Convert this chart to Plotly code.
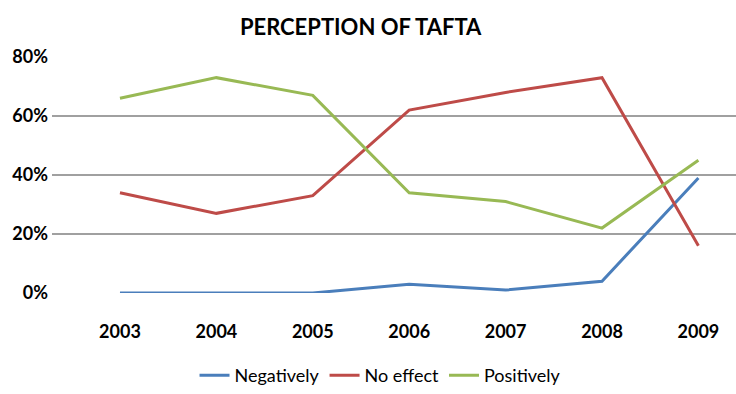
import plotly.graph_objects as go

years = ["2003", "2004", "2005", "2006", "2007", "2008", "2009"]
negatively = [0, 0, 0, 3, 1, 4, 39]
no_effect = [34, 27, 33, 62, 68, 73, 16]
positively = [66, 73, 67, 34, 31, 22, 45]
y_ticks = [0, 20, 40, 60, 80]
y_tick_labels = ["0%", "20%", "40%", "60%", "80%"]

font_family = "Lato, Open Sans, sans-serif"

fig = go.Figure()
for name, vals, color in [
    ("Negatively", negatively, "#4A7EBB"),
    ("No effect", no_effect, "#BE4B48"),
    ("Positively", positively, "#98B954"),
]:
    fig.add_trace(go.Scatter(x=years, y=vals, name=name, mode="lines",
                             line=dict(color=color, width=3)))

fig.update_layout(
    width=736, height=394,
    margin=dict(l=52, r=0, t=57, b=101),
    paper_bgcolor="white", plot_bgcolor="white",
    font=dict(family=font_family, color="#000000"),
    title=dict(text="<b>PERCEPTION OF TAFTA</b>", x=0.49, xanchor="center",
               y=0.93, yanchor="middle", font=dict(size=22, family=font_family)),
    xaxis=dict(type="category", range=[-0.705, 6.39], showgrid=False,
               showline=False, zeroline=False, ticks="outside", ticklen=22,
               tickcolor="rgba(0,0,0,0)", tickfont=dict(size=18, weight="bold")),
    yaxis=dict(range=[0, 80], tickvals=y_ticks, ticktext=y_tick_labels,
               showgrid=True, gridcolor="#A0A0A0", gridwidth=1.5, zeroline=False,
               showline=False, tickfont=dict(size=18, weight="bold"),
               ticklabelstandoff=3),
    legend=dict(orientation="h", xref="container", x=0.517, xanchor="center",
                yref="container", y=-0.03, yanchor="bottom",
                font=dict(size=18), itemwidth=30),
    showlegend=True,
)
fig.update_yaxes(automargin=False)
fig.update_xaxes(automargin=False)

fig.write_html("out.html")
